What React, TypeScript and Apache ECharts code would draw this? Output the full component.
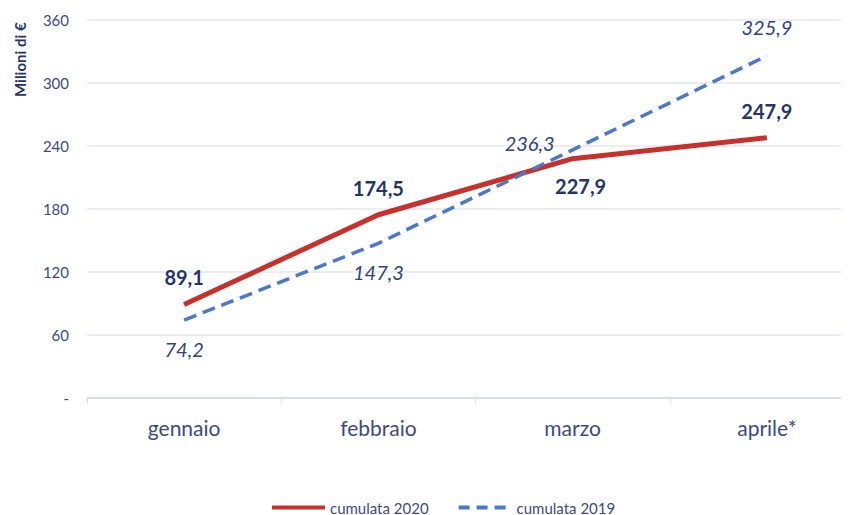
import React, { useEffect, useRef } from "react";
import * as echarts from "echarts";

const categories = ["gennaio", "febbraio", "marzo", "aprile*"];
const cum2020 = [89.1, 174.5, 227.9, 247.9];
const cum2019 = [74.2, 147.3, 236.3, 325.9];
const yTicks = [0, 60, 120, 180, 240, 300, 360];

const NAVY = "#24346b";
const LABEL = "#3b4a86";
const LABEL19 = "#30427f";
const RED = "#c8302c";
const BLUE = "#4a78cc";
const FONT = "Lato, 'Open Sans', sans-serif";

const fmt = (v: number) => v.toFixed(1).replace(".", ",");

export default function App() {
  const ref = useRef<HTMLDivElement>(null);
  useEffect(() => {
    if (!ref.current) return;
    const chart = echarts.init(ref.current, null, { renderer: "svg" });
    const pos2020 = ["top", "top", "bottom", "top"];
    const pos2019 = ["bottom", "bottom", "left", "top"];
    chart.setOption({
      animation: false,
      backgroundColor: "#ffffff",
      textStyle: { fontFamily: FONT },
      grid: { left: 79, top: 12, width: 777, height: 378 },
      xAxis: {
        type: "category",
        data: categories,
        boundaryGap: true,
        axisLine: { lineStyle: { color: "#d4d8e0", width: 1.5 } },
        axisTick: { show: true, length: 5, lineStyle: { color: "#d4d8e0" } },
        axisLabel: { color: LABEL, fontSize: 21, margin: 19, fontFamily: FONT },
      },
      yAxis: {
        type: "value",
        min: yTicks[0],
        max: yTicks[yTicks.length - 1],
        interval: 60,
        axisLine: { show: false },
        axisTick: { show: false },
        axisLabel: {
          color: LABEL,
          fontSize: 15,
          margin: 18,
          fontFamily: FONT,
          formatter: (v: number) => (v === 0 ? "-" : String(v)),
        },
        splitLine: { lineStyle: { color: "#e3e8f0", width: 1.5 } },
      },
      legend: {
        top: 492,
        left: 264,
        padding: 0,
        itemWidth: 53,
        itemHeight: 4,
        itemGap: 28,
        textStyle: { color: LABEL, fontSize: 15, fontFamily: FONT },
        data: [
          { name: "cumulata 2020", icon: "rect", itemStyle: { color: RED } },
          {
            name: "cumulata 2019",
            lineStyle: { color: BLUE, width: 4, type: [11, 7] },
          },
        ],
      },
      graphic: [
        {
          type: "text",
          x: 4,
          y: 89,
          rotation: Math.PI / 2,
          style: {
            text: "Milioni di €",
            fill: NAVY,
            font: `bold 15px ${FONT}`,
          },
        },
      ],
      series: [
        {
          name: "cumulata 2019",
          type: "line",
          data: cum2019.map((v, i) => ({
            value: v,
            label: {
              position: pos2019[i],
              ...(i === 2 ? { offset: [-12, -7], distance: 6 } : {}),
            },
          })),
          symbol: "circle",
          symbolSize: 0,
          showSymbol: true,
          lineStyle: { color: BLUE, width: 3.5, type: [13, 7] },
          itemStyle: { color: BLUE },
          label: {
            show: true,
            color: LABEL19,
            fontSize: 20,
            fontStyle: "italic",
            fontFamily: FONT,
            distance: 19,
            formatter: (p: any) => fmt(p.value),
          },
          z: 3,
        },
        {
          name: "cumulata 2020",
          type: "line",
          data: cum2020.map((v, i) => ({
            value: v,
            label: {
              position: pos2020[i],
              ...(i === 2 ? { offset: [8, 0] } : {}),
            },
          })),
          symbol: "circle",
          symbolSize: 0,
          showSymbol: true,
          lineStyle: { color: RED, width: 5 },
          itemStyle: { color: RED },
          label: {
            show: true,
            color: NAVY,
            fontSize: 20,
            fontWeight: "bold",
            fontFamily: FONT,
            distance: 17,
            formatter: (p: any) => fmt(p.value),
          },
          z: 2,
        },
      ],
    });
    return () => chart.dispose();
  }, []);
  return (
    <div style={{ width: 833, height: 507, overflow: "hidden" }}>
      <div ref={ref} style={{ width: 880, height: 507 }} />
    </div>
  );
}
